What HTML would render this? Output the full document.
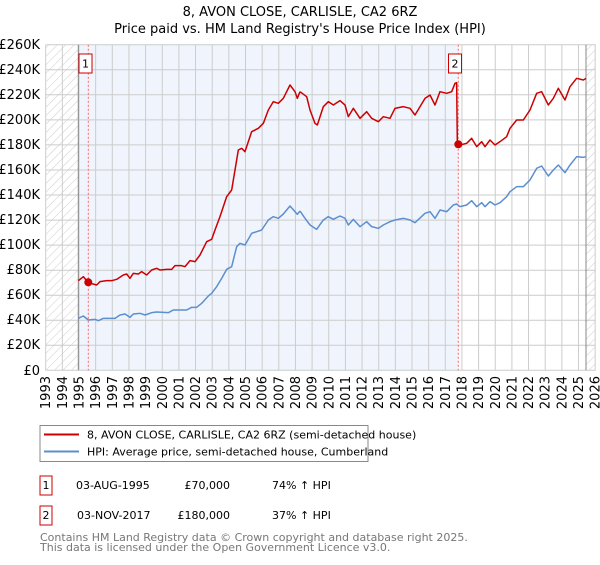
<!DOCTYPE html>
<html><head><meta charset="utf-8"><style>
body{margin:0;background:#fff;font-family:"Liberation Sans","DejaVu Sans",sans-serif}
svg text{font-family:"DejaVu Sans","Liberation Sans",sans-serif}
</style></head><body>
<svg width="600" height="560" xmlns="http://www.w3.org/2000/svg">
<defs>
<pattern id="h" width="6" height="6" patternUnits="userSpaceOnUse" patternTransform="rotate(45)">
<line x1="0" y1="0" x2="0" y2="6" stroke="#ccc" stroke-width="1"/></pattern>
</defs>
<text x="300" y="16" font-size="13" text-anchor="middle" fill="#000">8, AVON CLOSE, CARLISLE, CA2 6RZ</text>
<text x="300" y="33" font-size="13" text-anchor="middle" fill="#000">Price paid vs. HM Land Registry's House Price Index (HPI)</text>
<rect x="45.7" y="44.7" width="550" height="325.6" fill="#fff"/>
<rect x="78.3" y="44.7" width="380" height="325.6" fill="#f0f4fd"/>
<rect x="45.7" y="44.7" width="32.6" height="325.6" fill="url(#h)"/>
<rect x="586" y="44.7" width="9.7" height="325.6" fill="url(#h)"/>
<g stroke="#ccc" stroke-width="1">
<line x1="45.7" x2="595.7" y1="44.7" y2="44.7"/><line x1="45.7" x2="595.7" y1="69.8" y2="69.8"/><line x1="45.7" x2="595.7" y1="94.8" y2="94.8"/><line x1="45.7" x2="595.7" y1="119.9" y2="119.9"/><line x1="45.7" x2="595.7" y1="144.9" y2="144.9"/><line x1="45.7" x2="595.7" y1="170" y2="170"/><line x1="45.7" x2="595.7" y1="195" y2="195"/><line x1="45.7" x2="595.7" y1="220.1" y2="220.1"/><line x1="45.7" x2="595.7" y1="245.1" y2="245.1"/><line x1="45.7" x2="595.7" y1="270.2" y2="270.2"/><line x1="45.7" x2="595.7" y1="295.2" y2="295.2"/><line x1="45.7" x2="595.7" y1="320.3" y2="320.3"/><line x1="45.7" x2="595.7" y1="345.3" y2="345.3"/><line x1="45.7" x2="595.7" y1="370.3" y2="370.3"/>
</g>
<g id="vg" stroke="#ccc" stroke-width="1"></g>
<line x1="78.3" x2="78.3" y1="44.7" y2="370.3" stroke="#888"/>
<line x1="586" x2="586" y1="44.7" y2="370.3" stroke="#888"/>
<line x1="88.3" x2="88.3" y1="44.7" y2="370.3" stroke="#f66" stroke-dasharray="2,2"/>
<line x1="458.3" x2="458.3" y1="44.7" y2="370.3" stroke="#f66" stroke-dasharray="2,2"/>
<g font-size="13" text-anchor="end" fill="#000">
<text x="40" y="49">£260K</text><text x="40" y="74">£240K</text><text x="40" y="99">£220K</text><text x="40" y="124">£200K</text><text x="40" y="149">£180K</text><text x="40" y="174">£160K</text><text x="40" y="199">£140K</text><text x="40" y="224">£120K</text><text x="40" y="249">£100K</text><text x="40" y="274">£80K</text><text x="40" y="299">£60K</text><text x="40" y="324">£40K</text><text x="40" y="349">£20K</text><text x="40" y="375">£0</text>
</g>
<g id="xl" font-size="13" fill="#000"></g>
<g transform="translate(0,30) scale(0.33333)" fill="none" stroke-linejoin="round">
<polyline vector-effect="non-scaling-stroke" stroke="#5b8fd0" stroke-width="1.5" points="235,865 250,858 265,870 285,868 295,872 310,865 345,865 360,855 375,852 390,862 400,852 420,850 435,855 455,848 470,846 490,847 505,848 520,840 545,840 560,840 575,832 590,832 605,820 625,798 635,790 650,770 665,745 680,718 695,710 710,650 720,640 735,645 755,610 770,605 785,600 805,570 820,560 835,565 850,552 870,528 885,545 892,553 900,543"/>
<polyline vector-effect="non-scaling-stroke" stroke="#cc0000" stroke-width="1.5" points="235,752 250,740 265,758 290,765 300,755 320,752 335,752 350,748 370,735 380,732 390,745 400,730 415,732 425,725 440,735 455,720 470,715 480,720 500,718 515,718 525,707 545,707 555,710 570,692 585,695 600,675 620,635 635,628 645,600 660,560 670,530 680,500 695,480 705,420 715,360 725,355 735,365 755,305 775,295 790,280 805,240 820,215 835,220 850,205 870,165 885,185 892,205 900,185"/>
</g>
<g transform="translate(300,30) scale(0.33333)" fill="none" stroke-linejoin="round">
<polyline vector-effect="non-scaling-stroke" stroke="#5b8fd0" stroke-width="1.5" points="0,543 15,565 30,585 50,598 70,570 85,560 100,568 120,558 135,565 145,585 160,568 180,590 200,575 215,590 235,595 250,585 270,575 285,570 310,565 330,570 345,578 375,550 390,545 405,565 420,540 440,545 460,525 470,522 480,530 500,525 515,512 530,530 545,518 555,530 570,515 585,525 600,518 620,500 630,485 650,470 670,470 690,450 710,415 725,408 745,438 760,420 775,405 795,428 810,405 830,380 850,382 858,380"/>
<polyline vector-effect="non-scaling-stroke" stroke="#cc0000" stroke-width="1.5" points="0,185 20,200 30,240 45,280 52,285 70,230 85,215 100,225 120,212 135,225 145,260 160,235 180,265 200,245 215,265 235,275 250,260 270,265 285,235 310,230 330,235 345,255 375,205 390,195 405,225 420,185 440,190 455,185 465,160 470,158 472,340 480,345 500,340 515,325 530,350 545,335 555,350 570,330 585,345 600,335 620,320 630,295 650,270 670,270 690,240 710,190 725,185 745,225 760,205 775,175 795,210 810,170 830,145 850,150 858,145"/>
</g>
<circle cx="88.3" cy="282.3" r="4" fill="#cc0000"/>
<circle cx="458.3" cy="144.3" r="4" fill="#cc0000"/>
<rect x="79" y="54" width="13" height="19" fill="#fff" stroke="#cc0000"/>
<text x="85.5" y="67.5" font-size="11" text-anchor="middle">1</text>
<rect x="448.5" y="54" width="13" height="19" fill="#fff" stroke="#cc0000"/>
<text x="455" y="67.5" font-size="11" text-anchor="middle">2</text>
<rect x="40" y="425.5" width="328" height="36" fill="#fff" stroke="#888"/>
<line x1="44" x2="79" y1="434.5" y2="434.5" stroke="#cc0000" stroke-width="2"/>
<line x1="44" x2="79" y1="451.5" y2="451.5" stroke="#5b8fd0" stroke-width="2"/>
<g font-size="11" fill="#000">
<text x="87" y="438.5">8, AVON CLOSE, CARLISLE, CA2 6RZ (semi-detached house)</text>
<text x="87" y="455.5">HPI: Average price, semi-detached house, Cumberland</text>
</g>
<rect x="40" y="476" width="12" height="19" fill="#fff" stroke="#cc0000"/>
<rect x="40" y="506" width="12" height="19" fill="#fff" stroke="#cc0000"/>
<g font-size="11" fill="#000">
<text x="46" y="489" text-anchor="middle">1</text>
<text x="76" y="489">03-AUG-1995</text>
<text x="230" y="489" text-anchor="end">£70,000</text>
<text x="272" y="489">74% ↑ HPI</text>
<text x="46" y="519" text-anchor="middle">2</text>
<text x="77" y="519">03-NOV-2017</text>
<text x="230" y="519" text-anchor="end">£180,000</text>
<text x="272" y="519">37% ↑ HPI</text>
</g>
<g font-size="11" fill="#777">
<text x="40" y="541">Contains HM Land Registry data © Crown copyright and database right 2025.</text>
<text x="40" y="551">This data is licensed under the Open Government Licence v3.0.</text>
</g>
<script>
(function(){
var vg=document.getElementById('vg'),xl=document.getElementById('xl'),ns='http://www.w3.org/2000/svg';
for(var y=1993;y<=2026;y++){
var x=45.7+16.65*(y-1993);
var l=document.createElementNS(ns,'line');
l.setAttribute('x1',x);l.setAttribute('x2',x);l.setAttribute('y1',44.7);l.setAttribute('y2',370.3);vg.appendChild(l);
var t=document.createElementNS(ns,'text');
t.setAttribute('transform','translate('+(x+4.5)+',376) rotate(-90)');
t.setAttribute('text-anchor','end');t.textContent=y;xl.appendChild(t);
}
})();
</script>
</svg>
</body></html>
